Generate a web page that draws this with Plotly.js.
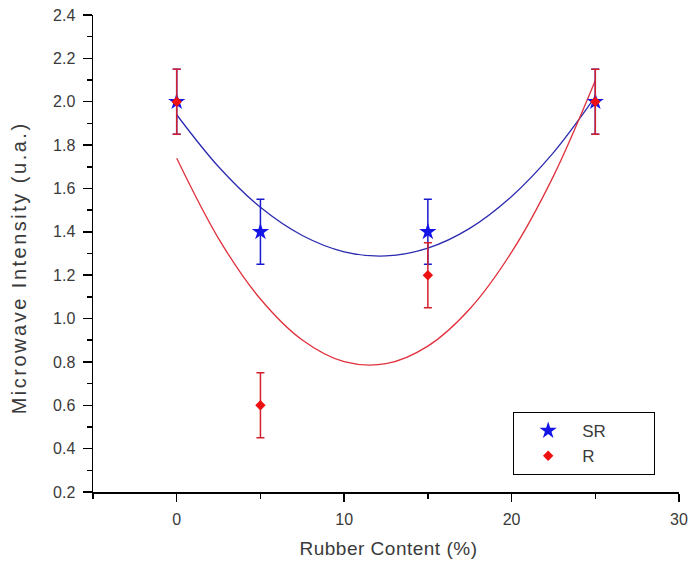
<!DOCTYPE html>
<html>
<head>
<meta charset="utf-8">
<script src="https://cdn.plot.ly/plotly-3.0.1.min.js"></script>
<style>
body{margin:0;padding:0;background:#fff;}
#chart{width:689px;height:561px;}
</style>
</head>
<body>
<div id="chart"></div>
<script>
// Measured data points
var rubberContent = [0, 5, 15, 25];
var srIntensity = [2.0, 1.4, 1.4, 2.0];
var srError = [0.15, 0.15, 0.15, 0.15];
var rIntensity = [2.0, 0.6, 1.2, 2.0];
var rError = [0.15, 0.15, 0.15, 0.15];

// Fitted curves
var fitX = [0, 2.5, 5, 7.5, 10, 12.5, 15, 17.5, 20, 22.5, 25];
var srFit = [1.94, 1.70, 1.513, 1.383, 1.308, 1.289, 1.325, 1.416, 1.563, 1.765, 2.023];
var rFit = [1.739, 1.369, 1.090, 0.901, 0.801, 0.792, 0.873, 1.044, 1.306, 1.657, 2.098];

// Tick labels
var xTickVals = [0, 10, 20, 30];
var xTickText = ['0', '10', '20', '30'];
var yTickVals = [0.2, 0.4, 0.6, 0.8, 1.0, 1.2, 1.4, 1.6, 1.8, 2.0, 2.2, 2.4];
var yTickText = ['0.2', '0.4', '0.6', '0.8', '1.0', '1.2', '1.4', '1.6', '1.8', '2.0', '2.2', '2.4'];

// Series names
var seriesNames = ['SR', 'R'];

var blueLine = '#2b2bb0';
var redLine = '#e0303c';
var blueMark = '#1414e6';
var redMark = '#ee1111';
var textColor = '#3a3a3a';
var fontFam = 'Liberation Sans, Arial, sans-serif';
var pad = '\u00a0\u00a0\u00a0\u00a0\u00a0\u00a0\u00a0\u00a0\u00a0';

var traces = [
  {x: fitX, y: srFit, mode: 'lines', line: {color: blueLine, width: 1.3, shape: 'spline'}, showlegend: false, hoverinfo: 'skip'},
  {x: fitX, y: rFit, mode: 'lines', line: {color: redLine, width: 1.3, shape: 'spline'}, showlegend: false, hoverinfo: 'skip'},
  {x: rubberContent, y: srIntensity, name: seriesNames[0] + pad, mode: 'markers', legendgroup: 'a',
   marker: {symbol: 'star', size: 13, color: blueMark, line: {width: 0}},
   error_y: {type: 'data', array: srError, visible: true, color: '#1a1ad0', thickness: 1.5, width: 4}},
  {x: rubberContent, y: rIntensity, name: seriesNames[1], mode: 'markers', legendgroup: 'b',
   marker: {symbol: 'diamond', size: 8, color: redMark, line: {width: 0}},
   error_y: {type: 'data', array: rError, visible: true, color: '#d4202c', thickness: 1.5, width: 4}}
];

var axisLine = {showline: true, linecolor: '#000', linewidth: 1.5, zeroline: false, showgrid: false};

var layout = {
  width: 689, height: 561,
  margin: {l: 93, r: 10, t: 15, b: 69},
  paper_bgcolor: '#fff', plot_bgcolor: '#fff',
  font: {family: fontFam, color: textColor, size: 16},
  showlegend: true,
  xaxis: Object.assign({}, axisLine, {
    range: [-5, 30], tickmode: 'array', tickvals: xTickVals, ticktext: xTickText,
    ticks: 'outside', ticklen: 8, tickwidth: 1.5, tickcolor: '#000',
    minor: {dtick: 5, tick0: 0, ticks: 'outside', ticklen: 5, tickwidth: 1.5, tickcolor: '#000'},
    tickfont: {size: 16, color: textColor}, ticklabelstandoff: 4
  }),
  yaxis: Object.assign({}, axisLine, {
    range: [0.2, 2.4], tickmode: 'array', tickvals: yTickVals, ticktext: yTickText,
    ticks: 'outside', ticklen: 9, tickwidth: 1.5, tickcolor: '#000',
    minor: {dtick: 0.1, tick0: 0.2, ticks: 'outside', ticklen: 5, tickwidth: 1.5, tickcolor: '#000'},
    tickfont: {size: 16, color: textColor}, ticklabelstandoff: 4
  }),
  xaxis2: Object.assign({}, axisLine, {
    overlaying: 'x', side: 'top', anchor: 'y', matches: 'x', range: [-5, 30],
    tickmode: 'array', tickvals: xTickVals, showticklabels: false,
    ticks: 'inside', ticklen: 8, tickwidth: 1.5, tickcolor: '#000',
    minor: {dtick: 5, tick0: 0, ticks: 'inside', ticklen: 5, tickwidth: 1.5, tickcolor: '#000'}
  }),
  yaxis2: Object.assign({}, axisLine, {
    overlaying: 'y', side: 'right', anchor: 'x', matches: 'y', range: [0.2, 2.4],
    tickmode: 'array', tickvals: yTickVals, showticklabels: false,
    ticks: 'inside', ticklen: 9, tickwidth: 1.5, tickcolor: '#000',
    minor: {dtick: 0.1, tick0: 0.2, ticks: 'inside', ticklen: 5, tickwidth: 1.5, tickcolor: '#000'}
  }),
  legend: {
    x: 0.7167, xanchor: 'left', y: 0.168, yanchor: 'top',
    bordercolor: '#000', borderwidth: 1.2, bgcolor: '#fff',
    font: {size: 17, color: textColor}, itemwidth: 58, tracegroupgap: 0
  },
  annotations: [
    {text: 'Rubber Content (%)', xref: 'paper', yref: 'paper', x: 0.505, y: 0, yshift: -56,
     xanchor: 'center', yanchor: 'middle', showarrow: false, font: {size: 19, color: textColor}},
    {text: 'Microwave Intensity (u.a.)', xref: 'paper', yref: 'paper', x: 0, xshift: -74, y: 0.47,
     xanchor: 'center', yanchor: 'middle', textangle: -90, showarrow: false, font: {size: 20, color: textColor}}
  ]
};

Plotly.newPlot('chart', traces, layout, {displayModeBar: false, staticPlot: true}).then(function () {
  var ann = document.querySelectorAll('.annotation-text');
  if (ann.length > 1) {
    ann[0].style.letterSpacing = '0.5px';
    ann[1].style.letterSpacing = '2.5px';
  }
});
</script>
</body>
</html>
